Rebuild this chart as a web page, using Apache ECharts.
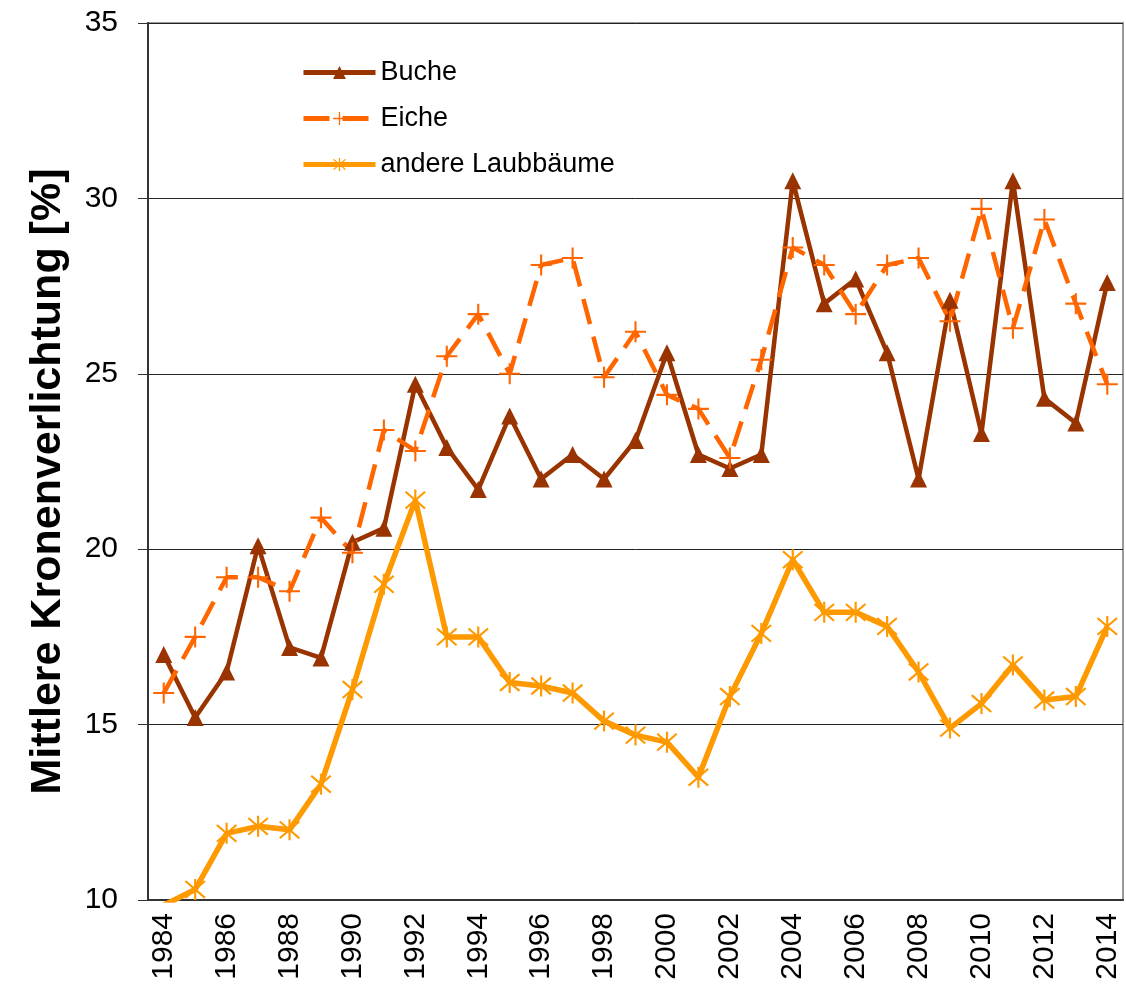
<!DOCTYPE html>
<html>
    <head>
        <meta charset="UTF-8">
        <title>Kronenverlichtung Laubbäume</title>
        <script src="https://cdn.jsdelivr.net/npm/echarts@6/dist/echarts.min.js"></script>
    </head>
    <body style="margin:0;background:#fff;">
        <div id="chart" style="width:1126px; height:994px;"></div>
        <script>
            // Jahre und Werte
            var years = [];
            for (var y = 1984; y <= 2014; y++) { years.push(String(y)); }

            var buche = [17.0, 15.2, 16.5, 20.1, 17.2, 16.9, 20.2, 20.6, 24.7, 22.9,
                         21.7, 23.8, 22.0, 22.7, 22.0, 23.1, 25.6, 22.7, 22.3, 22.7,
                         30.5, 27.0, 27.7, 25.6, 22.0, 27.1, 23.3, 30.5, 24.3, 23.6, 27.6];
            var eiche = [15.9, 17.5, 19.2, 19.2, 18.8, 20.9, 19.9, 23.4, 22.8, 25.5,
                         26.7, 25.0, 28.1, 28.3, 24.9, 26.2, 24.4, 24.0, 22.6, 25.4,
                         28.6, 28.1, 26.7, 28.1, 28.3, 26.5, 29.7, 26.3, 29.4, 27.0, 24.7];
            var andere = [9.85, 10.3, 11.9, 12.1, 12.0, 13.3, 16.0, 19.0, 21.4, 17.5,
                          17.5, 16.2, 16.1, 15.9, 15.1, 14.7, 14.5, 13.5, 15.8, 17.6,
                          19.7, 18.2, 18.2, 17.8, 16.5, 14.9, 15.6, 16.7, 15.7, 15.8, 17.8];

            var plusPath = 'path://M0,9 L20,9 L20,11 L0,11 Z M9,0 L11,0 L11,20 L9,20 Z';
            var starPath = 'path://M9,0 L11,0 L11,20 L9,20 Z ' +
                'M1.66,1.25 L19.66,17.25 L18.34,18.75 L0.34,2.75 Z ' +
                'M18.34,1.25 L19.66,2.75 L1.66,18.75 L0.34,17.25 Z';

            var chart = echarts.init(document.getElementById('chart'));
            var option = {
                animation: false,
                textStyle: { fontFamily: 'Liberation Sans, Arial, sans-serif' },
                grid: {
                    left: 148, right: 3, top: 23, bottom: 94,
                    show: true, borderColor: '#999', borderWidth: 2
                },
                legend: {
                    orient: 'vertical',
                    left: 296, top: 54,
                    itemWidth: 72, itemHeight: 16, itemGap: 19,
                    lineStyle: { width: 5 },
                    textStyle: { fontSize: 27, color: '#000', lineHeight: 27 },
                    data: ['Buche', 'Eiche', 'andere Laubbäume']
                },
                xAxis: {
                    type: 'category',
                    data: years,
                    boundaryGap: true,
                    axisLine: { lineStyle: { color: '#333', width: 2 } },
                    axisTick: { interval: 0, length: 8, lineStyle: { color: '#333', width: 1 } },
                    axisLabel: { interval: 1, rotate: 90, fontSize: 30, color: '#000', margin: 13 }
                },
                yAxis: {
                    type: 'value',
                    min: 10, max: 35, interval: 5,
                    name: 'Mittlere Kronenverlichtung [%]',
                    nameLocation: 'middle',
                    nameGap: 78,
                    nameTextStyle: {
                        fontWeight: 'bold', fontSize: 43, color: '#000',
                        padding: [0, 40, 0, 0]
                    },
                    axisLine: { show: true, lineStyle: { color: '#333', width: 2 } },
                    axisTick: { show: true, length: 10, lineStyle: { color: '#333' } },
                    axisLabel: { fontSize: 30, color: '#000', margin: 30 },
                    splitLine: { lineStyle: { color: '#222', width: 1 } }
                },
                series: [
                    {
                        name: 'Buche', type: 'line', data: buche,
                        symbol: 'triangle', symbolSize: 17, showAllSymbol: true,
                        itemStyle: { color: '#993300' },
                        lineStyle: { color: '#993300', width: 4.5 }
                    },
                    {
                        name: 'Eiche', type: 'line', data: eiche,
                        symbol: plusPath, symbolSize: 21, showAllSymbol: true,
                        itemStyle: { color: '#FF6600' },
                        lineStyle: { color: '#FF6600', width: 4.5, type: [26, 13] }
                    },
                    {
                        name: 'andere Laubbäume', type: 'line', data: andere,
                        symbol: starPath, symbolSize: 21, showAllSymbol: true,
                        itemStyle: { color: '#FF9900' },
                        lineStyle: { color: '#FF9900', width: 5.5 }
                    }
                ]
            };
            chart.setOption(option);
        </script>
    </body>
</html>
